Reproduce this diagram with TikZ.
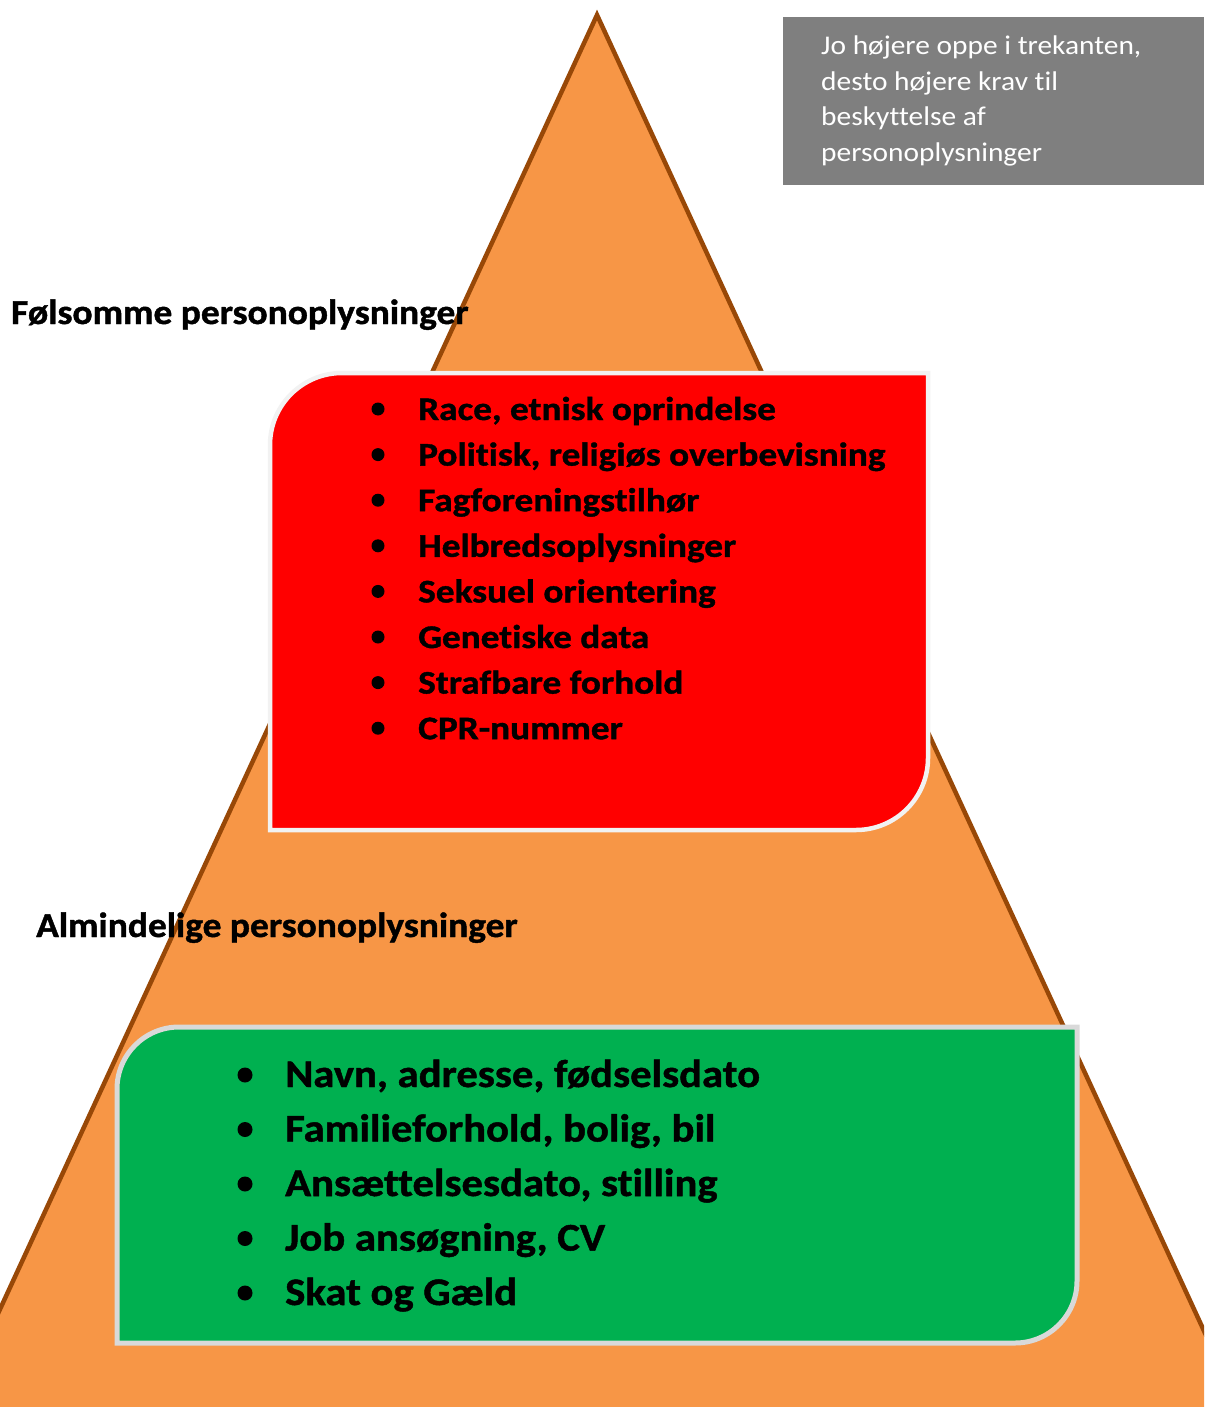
\documentclass[tikz,border=0pt]{standalone}
\usepackage{fontspec}
\setmainfont[Ligatures=CommonOff]{Carlito}
\newfontfamily\headfont[FakeStretch=1.07,FakeBold=1.2,Ligatures=CommonOff]{Carlito}
\newfontfamily\redfont[FakeStretch=1.13,FakeBold=1.2,Ligatures=CommonOff]{Carlito}
\newfontfamily\greenfont[FakeStretch=1.095,FakeBold=1.2,Ligatures=CommonOff]{Carlito}
\newfontfamily\notefont[FakeStretch=1.09,Ligatures=CommonOff]{Carlito}
\definecolor{orangefill}{HTML}{F79646}
\definecolor{orangeline}{HTML}{984807}
\definecolor{redfill}{HTML}{FF0000}
\definecolor{greenfill}{HTML}{00B050}
\definecolor{grayfill}{HTML}{7F7F7F}
\definecolor{redborder}{HTML}{F2F2F2}
\definecolor{greenborder}{HTML}{D9D9D9}
\tikzset{
  heading/.style={anchor=base west,inner sep=0pt,font=\headfont\bfseries\fontsize{35}{40}\selectfont},
  reditem/.style={anchor=base west,inner sep=0pt,font=\redfont\bfseries\fontsize{33}{36}\selectfont},
  greenitem/.style={anchor=base west,inner sep=0pt,font=\greenfont\bfseries\fontsize{39}{44}\selectfont},
  noteline/.style={anchor=base west,inner sep=0pt,text=white,font=\notefont\fontsize{27}{30}\selectfont},
  dotmark/.style={circle,fill=black,inner sep=0pt},
}
\begin{document}
\begin{tikzpicture}[x=1pt,y=-1pt]
\useasboundingbox (0,0) rectangle (1204,1407);
\begin{scope}
\clip (0,0) rectangle (1204,1407);
% triangle
\draw[fill=orangefill,draw=orangeline,line width=4.5pt,line join=miter]
  (597,15) -- (1282,1500) -- (-88,1500) -- cycle;
\end{scope}
% gray note
\fill[grayfill] (783,17) rectangle (1204,185);
\node[noteline] (n1) at (821,55) {Jo højere oppe i trekanten,};
\node[noteline] (n2) at (821,90.5) {desto højere krav til};
\node[noteline] (n3) at (821,126) {beskyttelse af};
\node[noteline] (n4) at (821,161.5) {personoplysninger};
% red box
\def\rL{270}\def\rR{928}\def\rT{373}\def\rB{830}\def\rr{72}
\draw[fill=redfill,draw=redborder,line width=4.5pt]
  (\rL,\rB) -- (\rL,\rT+\rr)
  .. controls (\rL,\rT+\rr-0.5523*\rr) and (\rL+\rr-0.5523*\rr,\rT) .. (\rL+\rr,\rT)
  -- (\rR,\rT) -- (\rR,\rB-\rr)
  .. controls (\rR,\rB-\rr+0.5523*\rr) and (\rR-\rr+0.5523*\rr,\rB) .. (\rR-\rr,\rB)
  -- cycle;
% green box
\def\gL{117}\def\gR{1077}\def\gT{1027}\def\gB{1343}\def\gr{62}
\draw[fill=greenfill,draw=greenborder,line width=5pt]
  (\gL,\gB) -- (\gL,\gT+\gr)
  .. controls (\gL,\gT+\gr-0.5523*\gr) and (\gL+\gr-0.5523*\gr,\gT) .. (\gL+\gr,\gT)
  -- (\gR,\gT) -- (\gR,\gB-\gr)
  .. controls (\gR,\gB-\gr+0.5523*\gr) and (\gR-\gr+0.5523*\gr,\gB) .. (\gR-\gr,\gB)
  -- cycle;
% headings
\node[heading] (h1) at (11,324) {Følsomme personoplysninger};
\node[heading] (h2) at (36,937) {Almindelige personoplysninger};
% red list
\foreach \t [count=\i from 0] in {Race{,} etnisk oprindelse,Politisk{,} religiøs overbevisning,Fagforeningstilhør,Helbredsoplysninger,Seksuel orientering,Genetiske data,Strafbare forhold,CPR-nummer}{
  \node[reditem] (r\i) at (418,420+45.6*\i) {\t};
  \node[dotmark,minimum size=13pt] (rb\i) at (378,409+45.6*\i) {};
}
% green list
\foreach \t [count=\i from 0] in {Navn{,} adresse{,} fødselsdato,Familieforhold{,} bolig{,} bil,Ansættelsesdato{,} stilling,Job ansøgning{,} CV,Skat og Gæld}{
  \node[greenitem] (g\i) at (285,1087+54.5*\i) {\t};
  \node[dotmark,minimum size=15pt] (gb\i) at (245,1075+54.5*\i) {};
}
\end{tikzpicture}
\end{document}
